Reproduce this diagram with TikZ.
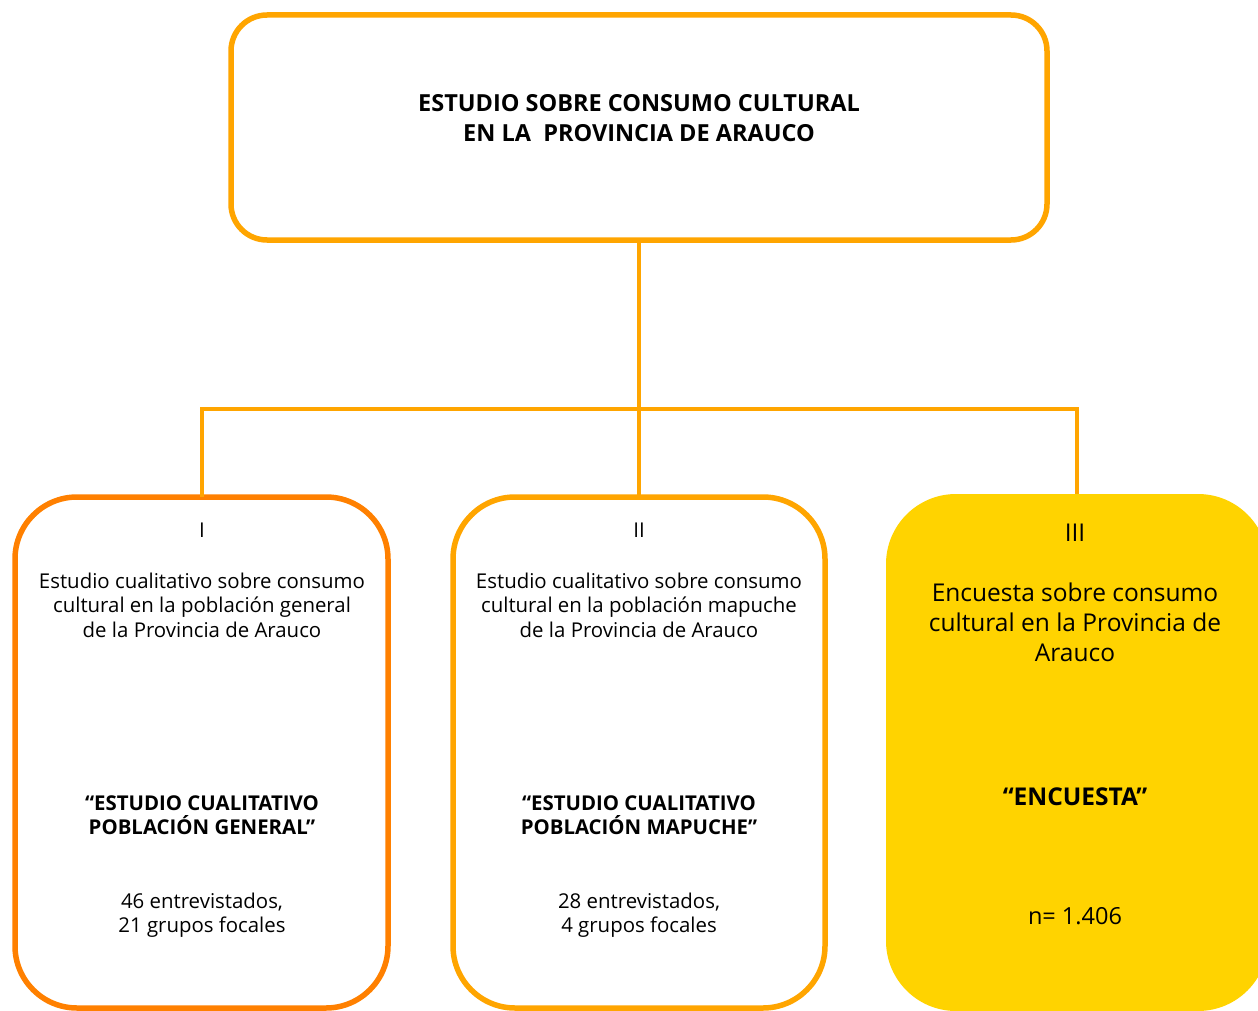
\documentclass[tikz,border=0pt]{standalone}
\usepackage{fontspec}
\setmainfont{Open Sans}
\usetikzlibrary{positioning}

\definecolor{lineorange}{HTML}{FFA500}
\definecolor{darkorange}{HTML}{FF8000}
\definecolor{gold}{HTML}{FFD300}

\tikzset{
  box/.style={draw=lineorange, line width=5.5pt, rounded corners=36pt},
  stage/.style={line width=5.5pt, rounded corners=62pt},
  link/.style={draw=lineorange, line width=4.5pt},
  txt/.style={align=center, font=\fontsize{20.4}{24.5}\selectfont},
  bold/.style={align=center, font=\bfseries\fontsize{20.4}{24.5}\selectfont},
  big/.style={align=center, font=\fontsize{24.5}{30}\selectfont},
  head/.style={align=center, font=\bfseries\fontsize{23.5}{30}\selectfont},
}

\begin{document}
\begin{tikzpicture}[x=1pt, y=-1pt]
    \useasboundingbox (0,0) rectangle (1258,1011);
    % main box
    \draw[box] (231,15) rectangle (1047,240);
    \coordinate (top) at (639,240);
    \node[head] (title) at (639,118) {ESTUDIO SOBRE CONSUMO CULTURAL\\EN LA~ PROVINCIA DE ARAUCO};
    % three stages
    \begin{scope}
        \clip (0,0) rectangle (1258,1011);
        \draw[stage, draw=darkorange] (15,497) rectangle (388,1008);
        \draw[stage, draw=lineorange] (453,497) rectangle (825,1008);
        \fill[gold, rounded corners=70pt] (886,494) rectangle (1268,1011);
    \end{scope}
    \coordinate (one) at (202,497);
    \coordinate (two) at (639,497);
    \coordinate (three) at (1077,494);
    \coordinate (split) at (639,409);
    % connectors
    \draw[link] (top) -- (two);
    \draw[link] (one) |- (split) -| (three);
    % stage I
    \node[txt] (numI) at (202,530) {I};
    \node[txt] (descI) at (202,605) {Estudio cualitativo sobre consumo\\cultural en la población general\\de la Provincia de Arauco};
    \node[bold] (nameI) at (202,815) {“ESTUDIO CUALITATIVO\\POBLACIÓN GENERAL”};
    \node[txt] (sizeI) at (202,915) {46 entrevistados,\\21 grupos focales};
    % stage II
    \node[txt] (numII) at (639,530) {II};
    \node[txt] (descII) at (639,605) {Estudio cualitativo sobre consumo\\cultural en la población mapuche\\de la Provincia de Arauco};
    \node[bold] (nameII) at (639,815) {“ESTUDIO CUALITATIVO\\POBLACIÓN MAPUCHE”};
    \node[txt] (sizeII) at (639,915) {28 entrevistados,\\4 grupos focales};
    % stage III
    \node[big] (numIII) at (1075,533) {III};
    \node[big] (descIII) at (1075,622) {Encuesta sobre consumo\\cultural en la Provincia de\\Arauco};
    \node[big, font=\bfseries\fontsize{24.5}{30}\selectfont] (nameIII) at (1075,797) {“ENCUESTA”};
    \node[big, font=\fontsize{23.5}{30}\selectfont] (sizeIII) at (1075,916) {n= 1.406};
\end{tikzpicture}
\end{document}
